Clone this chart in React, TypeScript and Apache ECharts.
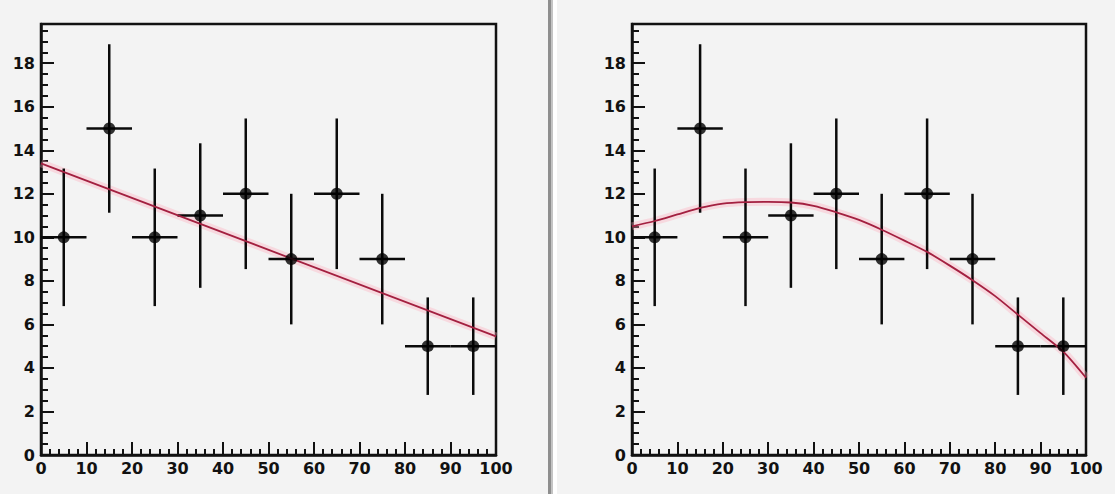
import React, { useEffect, useRef } from "react";
import * as echarts from "echarts";

// Histogram content (bins of width 10 over 0..100)
const binCenters = [5, 15, 25, 35, 45, 55, 65, 75, 85, 95];
const binHalfWidth = 5;
const counts = [10, 15, 10, 11, 12, 9, 12, 9, 5, 5];
const countErrors = [3.16, 3.87, 3.16, 3.32, 3.46, 3.0, 3.46, 3.0, 2.24, 2.24];

// Left panel: straight-line fit (read at the ends)
const linFitX = [0, 100];
const linFitY = [13.4, 5.45];

// Right panel: curved fit, read every 5 units
const curveFitX = [0, 5, 10, 15, 20, 25, 30, 35, 40, 45, 50, 55, 60, 65, 70, 75, 80, 85, 90, 95, 100];
const curveFitY = [10.5, 10.75, 11.05, 11.35, 11.55, 11.62, 11.63, 11.6, 11.45, 11.15, 10.8, 10.35, 9.85, 9.33, 8.7, 8.03, 7.3, 6.45, 5.6, 4.75, 3.55];

const xTickLabels = ["0", "10", "20", "30", "40", "50", "60", "70", "80", "90", "100"];
const yMax = 19.8;

const FONT = { color: "#111", fontFamily: "DejaVu Sans", fontWeight: "bold" as const, fontSize: 16 };

export default function App() {
  const ref = useRef<HTMLDivElement>(null);
  useEffect(() => {
    if (!ref.current) return;
    const chart = echarts.init(ref.current, null, { renderer: "svg" });

    const grids = [
      { left: 41, top: 24, width: 455, height: 431 },
      { left: 632, top: 24, width: 454, height: 431 },
    ];

    const xAxes = grids.map((_, i) => ({
      type: "value",
      gridIndex: i,
      min: 0,
      max: 100,
      interval: 10,
      axisLine: { show: true, lineStyle: { color: "#111", width: 2.5 } },
      axisTick: { show: true, inside: true, length: 13, lineStyle: { color: "#111", width: 2 } },
      minorTick: { show: true, splitNumber: 5, length: 6, lineStyle: { color: "#111", width: 2 } },
      splitLine: { show: false },
      axisLabel: {
        ...FONT,
        margin: 5,
        formatter: (v: number) => xTickLabels[Math.round(v / 10)] ?? "",
      },
    }));

    const yAxes = grids.map((_, i) => ({
      type: "value",
      gridIndex: i,
      min: 0,
      max: yMax,
      interval: 2,
      axisLine: { show: true, lineStyle: { color: "#111", width: 2.5 } },
      axisTick: { show: true, inside: true, length: 13, lineStyle: { color: "#111", width: 2 } },
      minorTick: { show: true, splitNumber: 4, length: 7, lineStyle: { color: "#111", width: 2 } },
      splitLine: { show: false },
      axisLabel: { ...FONT, margin: 6, showMaxLabel: false },
    }));

    const histData = binCenters.map((x, i) => [x, counts[i], countErrors[i], binHalfWidth]);

    const errorSeries = (i: number) => ({
      type: "custom",
      xAxisIndex: i,
      yAxisIndex: i,
      data: histData,
      encode: { x: 0, y: 1 },
      z: 2,
      renderItem: (params: any, api: any) => {
        const x = api.value(0);
        const y = api.value(1);
        const e = api.value(2);
        const hw = api.value(3);
        const l = api.coord([x - hw, y]);
        const r = api.coord([x + hw, y]);
        const t = api.coord([x, y + e]);
        const b = api.coord([x, y - e]);
        return {
          type: "group",
          children: [
            { type: "line", shape: { x1: l[0], y1: l[1], x2: r[0], y2: r[1] }, style: { stroke: "#0a0a0a", lineWidth: 2.5 } },
            { type: "line", shape: { x1: t[0], y1: t[1], x2: b[0], y2: b[1] }, style: { stroke: "#0a0a0a", lineWidth: 2.5 } },
          ],
        };
      },
    });

    const markerSeries = (i: number) => ({
      type: "scatter",
      xAxisIndex: i,
      yAxisIndex: i,
      data: binCenters.map((x, k) => [x, counts[k]]),
      symbol: "circle",
      symbolSize: 12,
      itemStyle: { color: "#000" },
      z: 5,
    });

    const fitSeries = (i: number, xs: number[], ys: number[], smooth: boolean) => [
      {
        type: "line",
        xAxisIndex: i,
        yAxisIndex: i,
        data: xs.map((x, k) => [x, ys[k]]),
        showSymbol: false,
        smooth: smooth ? 0.25 : false,
        lineStyle: { color: "rgba(255,170,185,0.35)", width: 8 },
        z: 1,
      },
      {
        type: "line",
        xAxisIndex: i,
        yAxisIndex: i,
        data: xs.map((x, k) => [x, ys[k]]),
        showSymbol: false,
        smooth: smooth ? 0.25 : false,
        lineStyle: { color: "#a32040", width: 1.8 },
        z: 3,
      },
    ];

    chart.setOption({
      animation: false,
      backgroundColor: "#f3f3f3",
      grid: grids.map((g) => ({ ...g, show: true, borderColor: "#111", borderWidth: 2.5, backgroundColor: "transparent" })),
      xAxis: xAxes,
      yAxis: yAxes,
      graphic: [
        { type: "rect", shape: { x: 548, y: 0, width: 3, height: 494 }, style: { fill: "#8e8e8e" } },
        { type: "rect", shape: { x: 551, y: 0, width: 2, height: 494 }, style: { fill: "#c4c4c4" } },
        { type: "rect", shape: { x: 553, y: 0, width: 4, height: 494 }, style: { fill: "#ffffff" } },
      ],
      series: [
        ...fitSeries(0, linFitX, linFitY, false),
        ...fitSeries(1, curveFitX, curveFitY, true),
        errorSeries(0),
        errorSeries(1),
        markerSeries(0),
        markerSeries(1),
      ],
    });
    return () => chart.dispose();
  }, []);
  return (
    <div
      ref={ref}
      style={{ position: "absolute", left: 0, top: 0, width: 1115, height: 494 }}
    />
  );
}
